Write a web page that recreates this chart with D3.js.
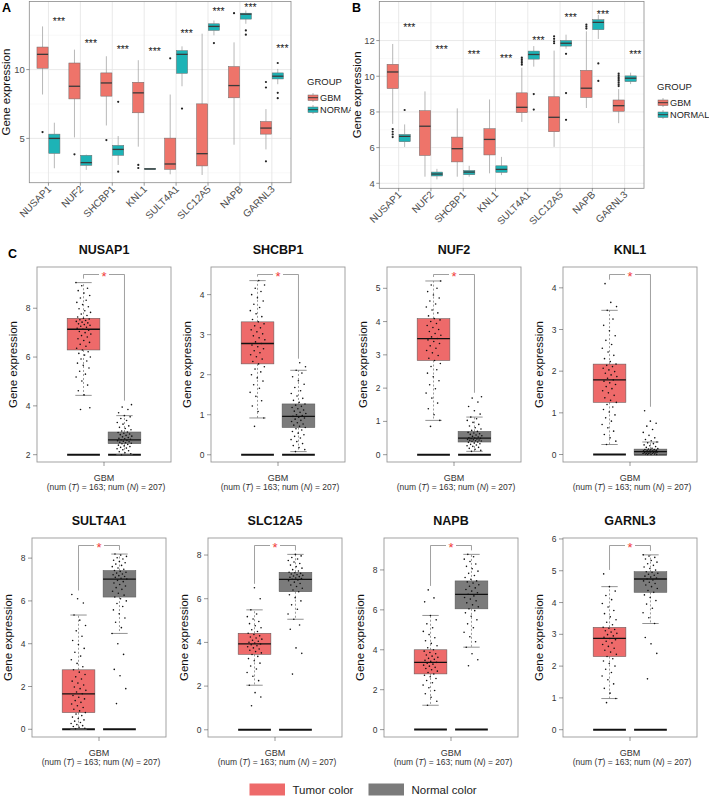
<!DOCTYPE html>
<html><head><meta charset="utf-8">
<script src="https://cdn.jsdelivr.net/npm/d3@7"></script>
<style>body{margin:0;background:#fff}svg{display:block}</style>
</head><body>
<svg id="c" width="709" height="797"></svg>
<script>
// ---------------- DATA ----------------
const GENES_AB = ["NUSAP1","NUF2","SHCBP1","KNL1","SULT4A1","SLC12A5","NAPB","GARNL3"];
const GROUPS_AB = ["GBM","NORMAL"];
// box stats: [lower whisker, Q1, median, Q3, upper whisker]
const A_GBM = [[8.19,10.1,11.11,11.64,13.14],[5.07,7.87,8.79,10.48,11.45],[5.94,8.07,9.03,9.76,10.97],[4.40,6.86,8.31,9.08,10.68],[2.39,2.75,3.14,5.02,8.19],[2.34,3.0,3.89,7.51,12.61],[4.54,7.95,8.84,10.22,11.98],[4.2,5.31,5.75,6.23,7.13]];
const A_NORMAL = [[2.83,3.91,5.0,5.31,6.14],[2.71,3.04,3.24,3.77,3.82],[3.07,3.77,4.2,4.49,5.17],[2.71,2.74,2.78,2.82,2.85],[8.79,9.73,11.11,11.38,11.69],[12.49,12.85,13.14,13.33,13.57],[13.33,13.67,14.03,14.1,14.3],[8.94,9.32,9.52,9.76,10.05]];
const A_GBM_OUT = [[5.46],[3.84],[4.88],[3.07,2.85],[10.82],[],[14.1],[9.1,8.7,3.33]];
const A_NORMAL_OUT = [[],[],[7.66,2.58],[],[7.17],[11.93],[12.85,12.54],[10.48,8.31,7.92]];
const A_STAR_Y = [13.52,11.96,11.52,11.33,12.68,14.25,14.54,11.57];
const A_TICKS = [5,10];
const A_MINOR = [2.5,7.5,12.5];

const B_GBM = [[7.33,9.31,10.24,10.67,11.81],[4.37,5.56,7.2,8.07,9.15],[4.37,5.2,5.94,6.59,8.2],[4.56,5.59,6.46,7.06,8.7],[7.44,7.96,8.26,9.07,10.48],[6.04,6.89,7.7,8.85,11.44],[8.22,8.81,9.33,10.33,12.52],[7.37,8.04,8.35,8.67,9.28]];
const B_NORMAL = [[6.04,6.33,6.63,6.74,7.3],[4.22,4.41,4.52,4.63,4.81],[4.37,4.48,4.63,4.72,4.98],[4.46,4.61,4.78,4.98,5.48],[10.54,10.96,11.22,11.41,11.69],[11.54,11.69,11.85,12.0,12.33],[12.09,12.61,13.02,13.17,13.44],[9.56,9.7,9.89,10.02,10.2]];
const B_GBM_OUT = [[7.04,6.89,6.74,6.59],[],[],[],[11.04,10.95,10.85,10.75,10.65],[12.24,12.1,11.96,11.85],[12.89,12.78,12.67],[10.15,10.05,9.95,9.85,9.75,9.65,9.55,9.45]];
const B_NORMAL_OUT = [[8.11],[],[],[],[9.0,8.13],[11.26,9.06,7.56],[10.72,9.74],[]];
const B_STAR_Y = [12.76,11.54,11.22,11.04,12.06,13.31,13.48,11.22];
const B_TICKS = [4,6,8,10,12];
const B_MINOR = [5,7,9,11,13];

const C_GENES = ["NUSAP1","SHCBP1","NUF2","KNL1","SULT4A1","SLC12A5","NAPB","GARNL3"];
const C_Y_RANGE = [[1.70,9.69],[-0.18,4.69],[-0.22,5.64],[-0.18,4.5],[-0.36,8.94],[-0.33,8.78],[-0.37,9.6],[-0.23,6.03]];
const C_TICKS = [[2,4,6,8],[0,1,2,3,4],[0,1,2,3,4,5],[0,1,2,3,4],[0,2,4,6,8],[0,2,4,6,8],[0,2,4,6,8],[0,1,2,3,4,5,6]];
const C_TUMOR_STATS = [[4.43,6.29,7.14,7.59,9.05],[0.92,2.27,2.78,3.32,4.35],[1.03,2.83,3.49,4.09,5.22],[0.24,1.25,1.79,2.17,3.46],[0,0.78,1.66,2.78,5.34],[2.04,3.45,3.93,4.42,5.49],[1.22,2.79,3.37,4.0,5.72],[0.98,2.30,2.87,3.22,4.50]];
const C_NORMAL_STATS = [[2.0,2.45,2.61,2.93,3.6],[0.08,0.68,0.96,1.27,2.11],[0.1,0.38,0.50,0.70,1.13],[0,0,0.07,0.13,0.30],[4.48,6.18,7.02,7.42,8.19],[5.06,6.32,6.89,7.21,8.03],[4.13,6.05,6.78,7.45,8.78],[3.34,4.32,4.74,4.97,5.50]];
const C_TUMOR_POINTS = [
 [3.85,3.92,4.45,4.62,4.85,5.02,5.18,5.3,5.42,5.55,5.66,5.75,5.84,5.92,6.0,6.08,6.15,6.22,6.29,6.36,6.44,6.52,6.6,6.68,6.75,6.82,6.88,6.94,7.0,7.05,7.1,7.14,7.18,7.22,7.26,7.3,7.33,7.36,7.4,7.43,7.46,7.5,7.53,7.56,7.59,7.64,7.7,7.76,7.83,7.9,7.98,8.06,8.15,8.24,8.33,8.42,8.52,8.62,8.72,8.82,8.92,9.05],
 [0.71,0.92,1.08,1.22,1.35,1.46,1.56,1.66,1.75,1.84,1.92,2.0,2.07,2.14,2.2,2.27,2.33,2.39,2.45,2.5,2.55,2.6,2.65,2.7,2.74,2.78,2.82,2.87,2.92,2.97,3.02,3.07,3.12,3.17,3.22,3.27,3.32,3.38,3.45,3.52,3.6,3.68,3.76,3.84,3.92,4.0,4.08,4.16,4.24,4.35],
 [0.85,1.03,1.2,1.38,1.55,1.7,1.85,1.98,2.1,2.22,2.34,2.45,2.55,2.65,2.74,2.83,2.9,2.98,3.06,3.13,3.2,3.27,3.34,3.4,3.45,3.49,3.54,3.59,3.64,3.7,3.76,3.82,3.88,3.94,4.0,4.05,4.09,4.17,4.26,4.35,4.44,4.53,4.62,4.71,4.8,4.9,5.0,5.1,5.22],
 [0.24,0.32,0.4,0.48,0.56,0.64,0.72,0.8,0.88,0.95,1.02,1.08,1.14,1.2,1.25,1.3,1.36,1.42,1.48,1.53,1.58,1.63,1.68,1.72,1.76,1.79,1.83,1.87,1.91,1.95,1.99,2.03,2.07,2.11,2.14,2.17,2.23,2.3,2.38,2.46,2.55,2.64,2.74,2.85,2.97,3.1,3.25,3.46,3.55,3.65,4.1],
 [0.02,0.05,0.09,0.13,0.17,0.22,0.27,0.32,0.38,0.44,0.5,0.57,0.64,0.71,0.78,0.86,0.94,1.02,1.1,1.18,1.26,1.34,1.42,1.5,1.58,1.66,1.74,1.82,1.9,1.98,2.07,2.16,2.25,2.35,2.45,2.56,2.67,2.78,2.92,3.08,3.25,3.42,3.6,3.78,3.96,4.15,4.35,4.6,4.85,5.1,5.34,5.9,6.1,6.3],
 [1.1,1.5,1.7,2.04,2.25,2.45,2.62,2.78,2.92,3.05,3.16,3.26,3.36,3.45,3.52,3.58,3.64,3.7,3.75,3.8,3.85,3.89,3.93,3.97,4.01,4.05,4.1,4.15,4.2,4.25,4.3,4.36,4.42,4.5,4.58,4.67,4.76,4.86,4.96,5.07,5.18,5.3,5.49,6.0,6.5],
 [1.22,1.42,1.62,1.8,1.96,2.1,2.23,2.35,2.46,2.56,2.65,2.72,2.79,2.86,2.93,3.0,3.06,3.12,3.18,3.23,3.28,3.33,3.37,3.42,3.47,3.52,3.57,3.62,3.68,3.74,3.8,3.86,3.93,4.0,4.1,4.2,4.32,4.45,4.6,4.76,4.92,5.1,5.3,5.5,5.72,6.4,6.6,7.0],
 [0.85,0.98,1.15,1.3,1.44,1.57,1.69,1.8,1.9,2.0,2.08,2.16,2.23,2.3,2.37,2.44,2.5,2.56,2.62,2.68,2.73,2.78,2.83,2.87,2.91,2.95,2.99,3.03,3.07,3.11,3.15,3.19,3.22,3.3,3.38,3.46,3.55,3.65,3.75,3.86,3.97,4.09,4.22,4.36,4.5,4.9]
];
const C_NORMAL_POINTS = [
 [2.0,2.04,2.08,2.12,2.16,2.2,2.24,2.27,2.3,2.33,2.36,2.39,2.42,2.45,2.47,2.49,2.51,2.53,2.55,2.57,2.59,2.61,2.63,2.65,2.67,2.7,2.73,2.76,2.79,2.82,2.85,2.88,2.91,2.93,2.97,3.02,3.07,3.12,3.18,3.25,3.32,3.4,3.48,3.55,3.6,3.72,3.85,3.95,4.05],
 [0.08,0.13,0.18,0.23,0.28,0.33,0.38,0.42,0.46,0.5,0.54,0.58,0.62,0.65,0.68,0.71,0.74,0.77,0.8,0.83,0.86,0.89,0.92,0.94,0.96,0.98,1.0,1.03,1.06,1.09,1.12,1.15,1.18,1.21,1.24,1.27,1.31,1.36,1.41,1.47,1.53,1.6,1.68,1.76,1.85,1.95,2.04,2.11,2.2,2.3],
 [0.1,0.13,0.16,0.19,0.22,0.25,0.27,0.29,0.31,0.33,0.35,0.37,0.38,0.4,0.41,0.42,0.43,0.44,0.45,0.46,0.47,0.48,0.49,0.5,0.51,0.53,0.55,0.57,0.59,0.61,0.63,0.65,0.67,0.7,0.73,0.77,0.81,0.86,0.91,0.97,1.03,1.08,1.13,1.22,1.32,1.45,1.58,1.7,1.74],
 [0,0,0,0.01,0.01,0.02,0.02,0.03,0.03,0.04,0.04,0.05,0.05,0.06,0.06,0.07,0.07,0.08,0.08,0.09,0.09,0.1,0.1,0.11,0.12,0.12,0.13,0.14,0.15,0.17,0.19,0.21,0.23,0.26,0.28,0.3,0.33,0.36,0.4,0.46,0.53,0.6,0.68,0.75,0.8,1.05],
 [1.2,1.9,2.5,2.8,3.5,4.0,4.48,4.75,5.0,5.2,5.4,5.58,5.74,5.88,6.0,6.1,6.18,6.27,6.36,6.45,6.54,6.62,6.7,6.77,6.84,6.9,6.96,7.02,7.06,7.1,7.14,7.18,7.22,7.26,7.3,7.34,7.38,7.42,7.48,7.54,7.6,7.66,7.72,7.78,7.84,7.9,7.96,8.02,8.08,8.14,8.19],
 [2.55,3.5,3.75,4.6,4.8,5.06,5.3,5.52,5.72,5.9,6.05,6.18,6.32,6.4,6.48,6.56,6.63,6.7,6.76,6.82,6.86,6.89,6.92,6.95,6.98,7.01,7.04,7.07,7.1,7.13,7.16,7.19,7.21,7.27,7.33,7.4,7.47,7.54,7.61,7.68,7.75,7.82,7.89,7.96,8.03],
 [3.2,3.5,3.8,4.13,4.4,4.65,4.88,5.1,5.3,5.5,5.68,5.85,5.96,6.05,6.15,6.25,6.35,6.45,6.54,6.62,6.7,6.78,6.86,6.94,7.02,7.1,7.18,7.26,7.34,7.4,7.45,7.53,7.62,7.72,7.83,7.94,8.06,8.18,8.3,8.42,8.54,8.66,8.78],
 [1.6,2.4,2.7,2.9,3.34,3.52,3.68,3.82,3.95,4.06,4.16,4.24,4.32,4.38,4.44,4.5,4.55,4.6,4.64,4.68,4.71,4.74,4.77,4.8,4.83,4.86,4.89,4.92,4.95,4.97,5.02,5.07,5.12,5.17,5.22,5.27,5.32,5.37,5.42,5.46,5.5]
];
const C_X_LABEL = "GBM";
const C_N_TUMOR = 163, C_N_NORMAL = 207;
const LEGEND_C = ["Tumor color","Normal color"];

// ---------------- STYLE ----------------
const FONT = '"Liberation Sans", Arial, Helvetica, sans-serif';
const COL_GBM = "#EE746A", COL_NORMAL = "#1DB3B6";
const COL_T = "#EE6A6A", COL_N = "#7B7B7B";
const svg = d3.select("#c").style("font-family", FONT);
svg.append("defs").append("clipPath").attr("id", "clipA").append("rect").attr("x", 0).attr("y", 0).attr("width", 351).attr("height", 260);

// ---------------- PANELS A / B ----------------
function ggPanel(o) {
  const g = svg.append("g");
  if (o.clip) g.attr("clip-path", `url(#${o.clip})`);
  const x = d3.scalePoint().domain(GENES_AB).range([o.left, o.right]).padding(0.6);
  const step = x.step();
  const y = d3.scaleLinear().domain(o.domain).range([o.bottom, o.top]);
  g.selectAll(".mn").data(o.minor).join("line")
    .attr("x1", o.left).attr("x2", o.right).attr("y1", d => y(d)).attr("y2", d => y(d))
    .attr("stroke", "#f0f0f0").attr("stroke-width", 0.5);
  g.selectAll(".mj").data(o.ticks).join("line")
    .attr("x1", o.left).attr("x2", o.right).attr("y1", d => y(d)).attr("y2", d => y(d))
    .attr("stroke", "#e3e3e3").attr("stroke-width", 0.8);
  g.selectAll(".vg").data(GENES_AB).join("line")
    .attr("x1", d => x(d)).attr("x2", d => x(d)).attr("y1", o.top).attr("y2", o.bottom)
    .attr("stroke", "#e3e3e3").attr("stroke-width", 0.8);
  const bw = step * 0.35;
  [[o.gbm, o.gbmOut, COL_GBM, -1], [o.normal, o.normalOut, COL_NORMAL, 1]].forEach(([stats, outs, col, side]) => {
    GENES_AB.forEach((gn, i) => {
      const s = stats[i];
      const cx = x(gn) + side * (bw / 2 + step * 0.01);
      g.append("line").attr("x1", cx).attr("x2", cx).attr("y1", y(s[0])).attr("y2", y(s[1])).attr("stroke", "#9a9a9a").attr("stroke-width", 0.7);
      g.append("line").attr("x1", cx).attr("x2", cx).attr("y1", y(s[3])).attr("y2", y(s[4])).attr("stroke", "#9a9a9a").attr("stroke-width", 0.7);
      g.append("rect").attr("x", cx - bw / 2).attr("width", bw).attr("y", y(s[3])).attr("height", Math.max(1, y(s[1]) - y(s[3])))
        .attr("fill", col).attr("stroke", "#6a6a6a").attr("stroke-width", 0.5);
      g.append("line").attr("x1", cx - bw / 2).attr("x2", cx + bw / 2).attr("y1", y(s[2])).attr("y2", y(s[2]))
        .attr("stroke", "#3a3a3a").attr("stroke-width", 1.3);
      g.selectAll(null).data(outs[i]).join("circle").attr("cx", cx).attr("cy", d => y(d)).attr("r", 1.1).attr("fill", "#222");
    });
  });
  g.selectAll(".st").data(GENES_AB).join("text")
    .attr("x", d => x(d) + step * 0.33).attr("y", (d, i) => y(o.stars[i]) + 4)
    .attr("text-anchor", "middle").attr("font-size", 10.5).attr("fill", "#1a1a1a").text("***");
  g.append("rect").attr("x", o.left).attr("y", o.top).attr("width", o.right - o.left).attr("height", o.bottom - o.top)
    .attr("fill", "none").attr("stroke", "#8a8a8a").attr("stroke-width", 0.8);
  o.ticks.forEach(t => {
    g.append("line").attr("x1", o.left - 3).attr("x2", o.left).attr("y1", y(t)).attr("y2", y(t)).attr("stroke", "#555").attr("stroke-width", 0.6);
    g.append("text").attr("x", o.left - 4.5).attr("y", y(t) + 3.3).attr("text-anchor", "end").attr("font-size", 9.5).attr("fill", "#4d4d4d").text(t);
  });
  GENES_AB.forEach(gn => {
    g.append("line").attr("x1", x(gn)).attr("x2", x(gn)).attr("y1", o.bottom).attr("y2", o.bottom + 3).attr("stroke", "#555").attr("stroke-width", 0.6);
    g.append("text").attr("transform", `translate(${x(gn) + 3.5},${o.bottom + 7}) rotate(-45)`)
      .attr("text-anchor", "end").attr("font-size", 10).attr("fill", "#4d4d4d").text(gn);
  });
  g.append("text").attr("transform", `translate(${o.ylabX},${(o.top + o.bottom) / 2}) rotate(-90)`)
    .attr("text-anchor", "middle").attr("font-size", 11.5).attr("fill", "#111").text("Gene expression");
  g.append("text").attr("x", o.legX).attr("y", o.legY).attr("font-size", 9.5).attr("fill", "#222").text("GROUP");
  [[GROUPS_AB[0], COL_GBM], [GROUPS_AB[1], COL_NORMAL]].forEach(([lab, col], k) => {
    const ky = o.legY + 8 + k * 12;
    g.append("line").attr("x1", o.legX + 6).attr("x2", o.legX + 6).attr("y1", ky).attr("y2", ky + 9).attr("stroke", "#9a9a9a").attr("stroke-width", 0.7);
    g.append("rect").attr("x", o.legX + 1).attr("y", ky + 2).attr("width", 10).attr("height", 5.5).attr("fill", col).attr("stroke", "#6a6a6a").attr("stroke-width", 0.5);
    g.append("line").attr("x1", o.legX + 1).attr("x2", o.legX + 11).attr("y1", ky + 4.7).attr("y2", ky + 4.7).attr("stroke", "#3a3a3a").attr("stroke-width", 1);
    g.append("text").attr("x", o.legX + 13).attr("y", ky + 8).attr("font-size", 9.2).attr("fill", "#222").text(lab);
  });
  g.append("text").attr("x", o.tagX).attr("y", 12).attr("font-size", 12.5).attr("font-weight", "bold").attr("fill", "#000").text(o.tag);
}

ggPanel({tag: "A", tagX: 2, left: 29.3, right: 291, top: 1.5, bottom: 182.7, domain: [1.78, 14.95], clip: "clipA",
  ticks: A_TICKS, minor: A_MINOR, gbm: A_GBM, normal: A_NORMAL, gbmOut: A_GBM_OUT, normalOut: A_NORMAL_OUT,
  stars: A_STAR_Y, ylabX: 10, legX: 307, legY: 85});
ggPanel({tag: "B", tagX: 352, left: 379.3, right: 644, top: 1.5, bottom: 188.3, domain: [3.72, 14.19],
  ticks: B_TICKS, minor: B_MINOR, gbm: B_GBM, normal: B_NORMAL, gbmOut: B_GBM_OUT, normalOut: B_NORMAL_OUT,
  stars: B_STAR_Y, ylabX: 361, legX: 657, legY: 90});

// ---------------- PANEL C ----------------
const C_LEFTS = [[37, 211, 387, 563], [32, 208, 384, 563]];
const C_TOPS = [267, 538], C_BOTTOMS = [462, 737], C_W = 134;
svg.append("text").attr("x", 8).attr("y", 258).attr("font-size", 12.5).attr("font-weight", "bold").text("C");

C_GENES.forEach((gene, i) => {
  const row = Math.floor(i / 4), col = i % 4;
  const L = C_LEFTS[row][col], R = L + C_W, T = C_TOPS[row], B = C_BOTTOMS[row];
  const g = svg.append("g");
  const y = d3.scaleLinear().domain(C_Y_RANGE[i]).range([B, T]);
  const x = d3.scaleBand().domain(["T", "N"]).range([L + C_W * 0.225, R - C_W * 0.225]).paddingInner(0.2);
  const bw = x.bandwidth();
  const groups = [["T", C_TUMOR_STATS[i], C_TUMOR_POINTS[i], COL_T], ["N", C_NORMAL_STATS[i], C_NORMAL_POINTS[i], COL_N]];
  const y0 = C_TICKS[i][0];
  groups.forEach(([k, s, pts, colr]) => {
    const x0 = x(k), cx = x0 + bw / 2;
    g.append("line").attr("x1", x0).attr("x2", x0 + bw).attr("y1", y(y0)).attr("y2", y(y0)).attr("stroke", "#111").attr("stroke-width", 2);
    g.append("rect").attr("x", x0).attr("width", bw).attr("y", y(s[3])).attr("height", Math.max(1, y(s[1]) - y(s[3])))
      .attr("fill", colr).attr("stroke", "#555").attr("stroke-width", 0.5);
    g.append("line").attr("x1", x0).attr("x2", x0 + bw).attr("y1", y(s[2])).attr("y2", y(s[2])).attr("stroke", "#111").attr("stroke-width", 1.3);
    g.append("line").attr("x1", cx).attr("x2", cx).attr("y1", y(s[3])).attr("y2", y(s[4])).attr("stroke", "#555").attr("stroke-width", 0.6).attr("stroke-dasharray", "2,2");
    g.append("line").attr("x1", cx).attr("x2", cx).attr("y1", y(s[1])).attr("y2", y(s[0])).attr("stroke", "#555").attr("stroke-width", 0.6).attr("stroke-dasharray", "2,2");
    [s[0], s[4]].forEach(v => g.append("line").attr("x1", cx - bw / 4).attr("x2", cx + bw / 4).attr("y1", y(v)).attr("y2", y(v)).attr("stroke", "#777").attr("stroke-width", 0.8));
    g.selectAll(null).data(pts).join("circle")
      .attr("cx", (d, j) => cx + (((j * 0.618034 + k.length * 0.3) % 1) - 0.5) * bw * 0.46)
      .attr("cy", d => y(d)).attr("r", 0.8).attr("fill", "#111");
  });
  const by = T + 7.5;
  const cxT = x("T") + bw / 2, cxN = x("N") + bw / 2, mid = (cxT + cxN) / 2;
  const topT = y(d3.max([...C_TUMOR_POINTS[i], C_TUMOR_STATS[i][4]])) - 4;
  const topN = y(d3.max([...C_NORMAL_POINTS[i], C_NORMAL_STATS[i][4]])) - 4;
  g.append("path").attr("d", `M${cxT},${topT}V${by}H${mid - 5}M${mid + 5},${by}H${cxN}V${topN}`)
    .attr("fill", "none").attr("stroke", "#888").attr("stroke-width", 0.8);
  g.append("text").attr("x", mid).attr("y", by + 6).attr("text-anchor", "middle").attr("font-size", 13).attr("fill", "#f03a3a").text("*");
  g.append("rect").attr("x", L).attr("y", T).attr("width", C_W).attr("height", B - T).attr("fill", "none").attr("stroke", "#999").attr("stroke-width", 0.9);
  C_TICKS[i].forEach(t => {
    g.append("line").attr("x1", L - 4).attr("x2", L).attr("y1", y(t)).attr("y2", y(t)).attr("stroke", "#555").attr("stroke-width", 0.6);
    g.append("text").attr("x", L - 6.5).attr("y", y(t) + 3).attr("text-anchor", "end").attr("font-size", 8.5).attr("fill", "#333").text(t);
  });
  g.append("text").attr("transform", `translate(${L - 20},${(T + B) / 2}) rotate(-90)`).attr("text-anchor", "middle")
    .attr("font-size", 11.5).attr("fill", "#111").text("Gene expression");
  const mx = (L + R) / 2;
  g.append("line").attr("x1", mx).attr("x2", mx).attr("y1", B).attr("y2", B + 4).attr("stroke", "#555").attr("stroke-width", 0.6);
  g.append("text").attr("x", mx).attr("y", B + 19).attr("text-anchor", "middle").attr("font-size", 9).attr("fill", "#333").text(C_X_LABEL);
  const t2 = g.append("text").attr("x", mx + 2).attr("y", B + 28).attr("text-anchor", "middle").attr("font-size", 8.5).attr("fill", "#333");
  t2.append("tspan").text("(num (");
  t2.append("tspan").attr("font-style", "italic").text("T");
  t2.append("tspan").text(`) = ${C_N_TUMOR}; num (`);
  t2.append("tspan").attr("font-style", "italic").text("N");
  t2.append("tspan").text(`) = ${C_N_NORMAL})`);
  g.append("text").attr("x", mx).attr("y", T - 13).attr("text-anchor", "middle").attr("font-size", 12.5).attr("font-weight", "bold").attr("fill", "#111").text(gene);
});

[[LEGEND_C[0], COL_T, 249.5], [LEGEND_C[1], COL_N, 368.5]].forEach(([lab, c, lx]) => {
  svg.append("rect").attr("x", lx).attr("y", 783.5).attr("width", 35.5).attr("height", 12).attr("fill", c);
  svg.append("text").attr("x", lx + 43).attr("y", 794).attr("font-size", 11.5).attr("fill", "#222").text(lab);
});
</script>
</body></html>
